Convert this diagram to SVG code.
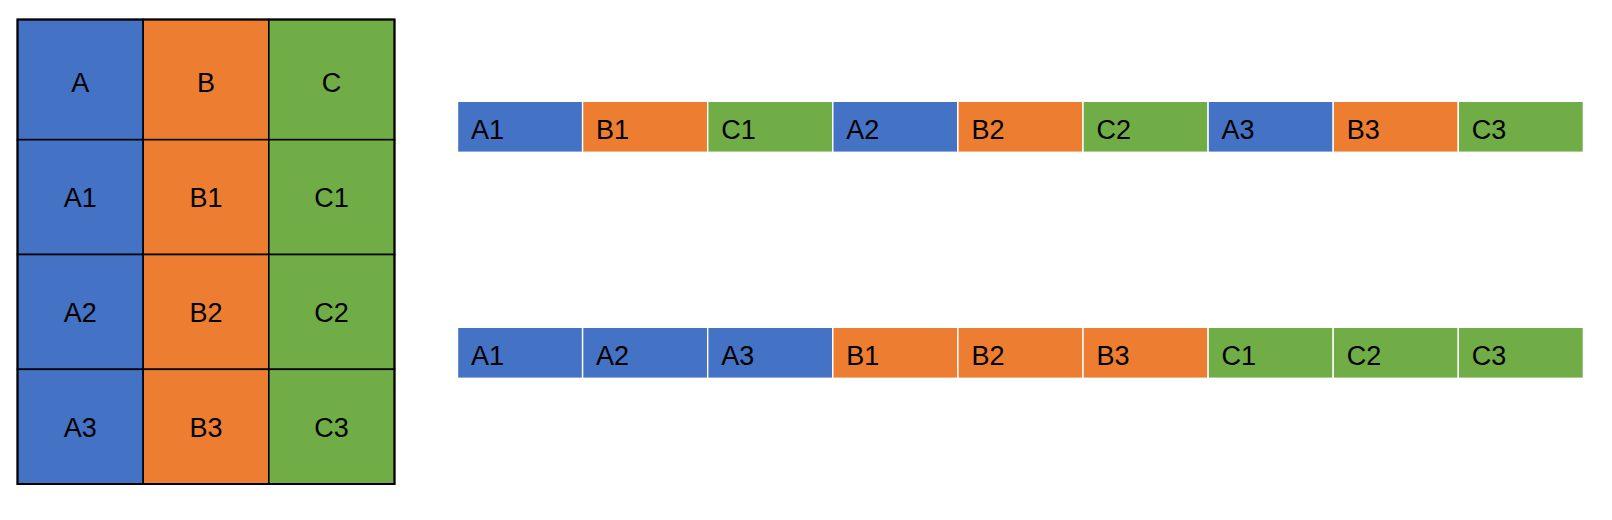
<svg xmlns="http://www.w3.org/2000/svg" width="1612" height="520" viewBox="0 0 1612 520">
<style>
.a{fill:#4472C4}.b{fill:#ED7D31}.c{fill:#70AD47}
.g{stroke:#000;stroke-width:1.6}
.s{stroke:#fff;stroke-width:1.4}
text{font-family:"Liberation Sans",Arial,sans-serif;font-size:27px;fill:#000}
.m{text-anchor:middle}
</style>
<rect width="1612" height="520" fill="#fff"/>
<g id="grid">
<rect class="a g" x="17.5" y="19.5" width="125.7" height="120.2"/>
<rect class="b g" x="143.2" y="19.5" width="125.6" height="120.2"/>
<rect class="c g" x="268.8" y="19.5" width="125.7" height="120.2"/>
<rect class="a g" x="17.5" y="139.7" width="125.7" height="114.8"/>
<rect class="b g" x="143.2" y="139.7" width="125.6" height="114.8"/>
<rect class="c g" x="268.8" y="139.7" width="125.7" height="114.8"/>
<rect class="a g" x="17.5" y="254.5" width="125.7" height="114.8"/>
<rect class="b g" x="143.2" y="254.5" width="125.6" height="114.8"/>
<rect class="c g" x="268.8" y="254.5" width="125.7" height="114.8"/>
<rect class="a g" x="17.5" y="369.3" width="125.7" height="114.7"/>
<rect class="b g" x="143.2" y="369.3" width="125.6" height="114.7"/>
<rect class="c g" x="268.8" y="369.3" width="125.7" height="114.7"/>
<rect x="17.5" y="19.5" width="377" height="464.5" fill="none" stroke="#000" stroke-width="2"/>
<text class="m" x="80.3" y="91.7">A</text>
<text class="m" x="206" y="91.7">B</text>
<text class="m" x="331.6" y="91.7">C</text>
<text class="m" x="80.3" y="206.7">A1</text>
<text class="m" x="206" y="206.7">B1</text>
<text class="m" x="331.6" y="206.7">C1</text>
<text class="m" x="80.3" y="321.7">A2</text>
<text class="m" x="206" y="321.7">B2</text>
<text class="m" x="331.6" y="321.7">C2</text>
<text class="m" x="80.3" y="436.7">A3</text>
<text class="m" x="206" y="436.7">B3</text>
<text class="m" x="331.6" y="436.7">C3</text>
</g>
<g id="row-major">
<rect class="a s" x="457.5" y="101.3" width="125.1" height="51"/>
<rect class="b s" x="582.6" y="101.3" width="125.1" height="51"/>
<rect class="c s" x="707.7" y="101.3" width="125.1" height="51"/>
<rect class="a s" x="832.8" y="101.3" width="125.1" height="51"/>
<rect class="b s" x="957.9" y="101.3" width="125.1" height="51"/>
<rect class="c s" x="1083" y="101.3" width="125.1" height="51"/>
<rect class="a s" x="1208.1" y="101.3" width="125.1" height="51"/>
<rect class="b s" x="1333.2" y="101.3" width="125.1" height="51"/>
<rect class="c s" x="1458.3" y="101.3" width="125.1" height="51"/>
<text x="471" y="138.5">A1</text>
<text x="596.1" y="138.5">B1</text>
<text x="721.2" y="138.5">C1</text>
<text x="846.3" y="138.5">A2</text>
<text x="971.4" y="138.5">B2</text>
<text x="1096.5" y="138.5">C2</text>
<text x="1221.6" y="138.5">A3</text>
<text x="1346.7" y="138.5">B3</text>
<text x="1471.8" y="138.5">C3</text>
</g>
<g id="column-major">
<rect class="a s" x="457.5" y="327.3" width="125.1" height="51"/>
<rect class="a s" x="582.6" y="327.3" width="125.1" height="51"/>
<rect class="a s" x="707.7" y="327.3" width="125.1" height="51"/>
<rect class="b s" x="832.8" y="327.3" width="125.1" height="51"/>
<rect class="b s" x="957.9" y="327.3" width="125.1" height="51"/>
<rect class="b s" x="1083" y="327.3" width="125.1" height="51"/>
<rect class="c s" x="1208.1" y="327.3" width="125.1" height="51"/>
<rect class="c s" x="1333.2" y="327.3" width="125.1" height="51"/>
<rect class="c s" x="1458.3" y="327.3" width="125.1" height="51"/>
<text x="471" y="364.5">A1</text>
<text x="596.1" y="364.5">A2</text>
<text x="721.2" y="364.5">A3</text>
<text x="846.3" y="364.5">B1</text>
<text x="971.4" y="364.5">B2</text>
<text x="1096.5" y="364.5">B3</text>
<text x="1221.6" y="364.5">C1</text>
<text x="1346.7" y="364.5">C2</text>
<text x="1471.8" y="364.5">C3</text>
</g>
</svg>
